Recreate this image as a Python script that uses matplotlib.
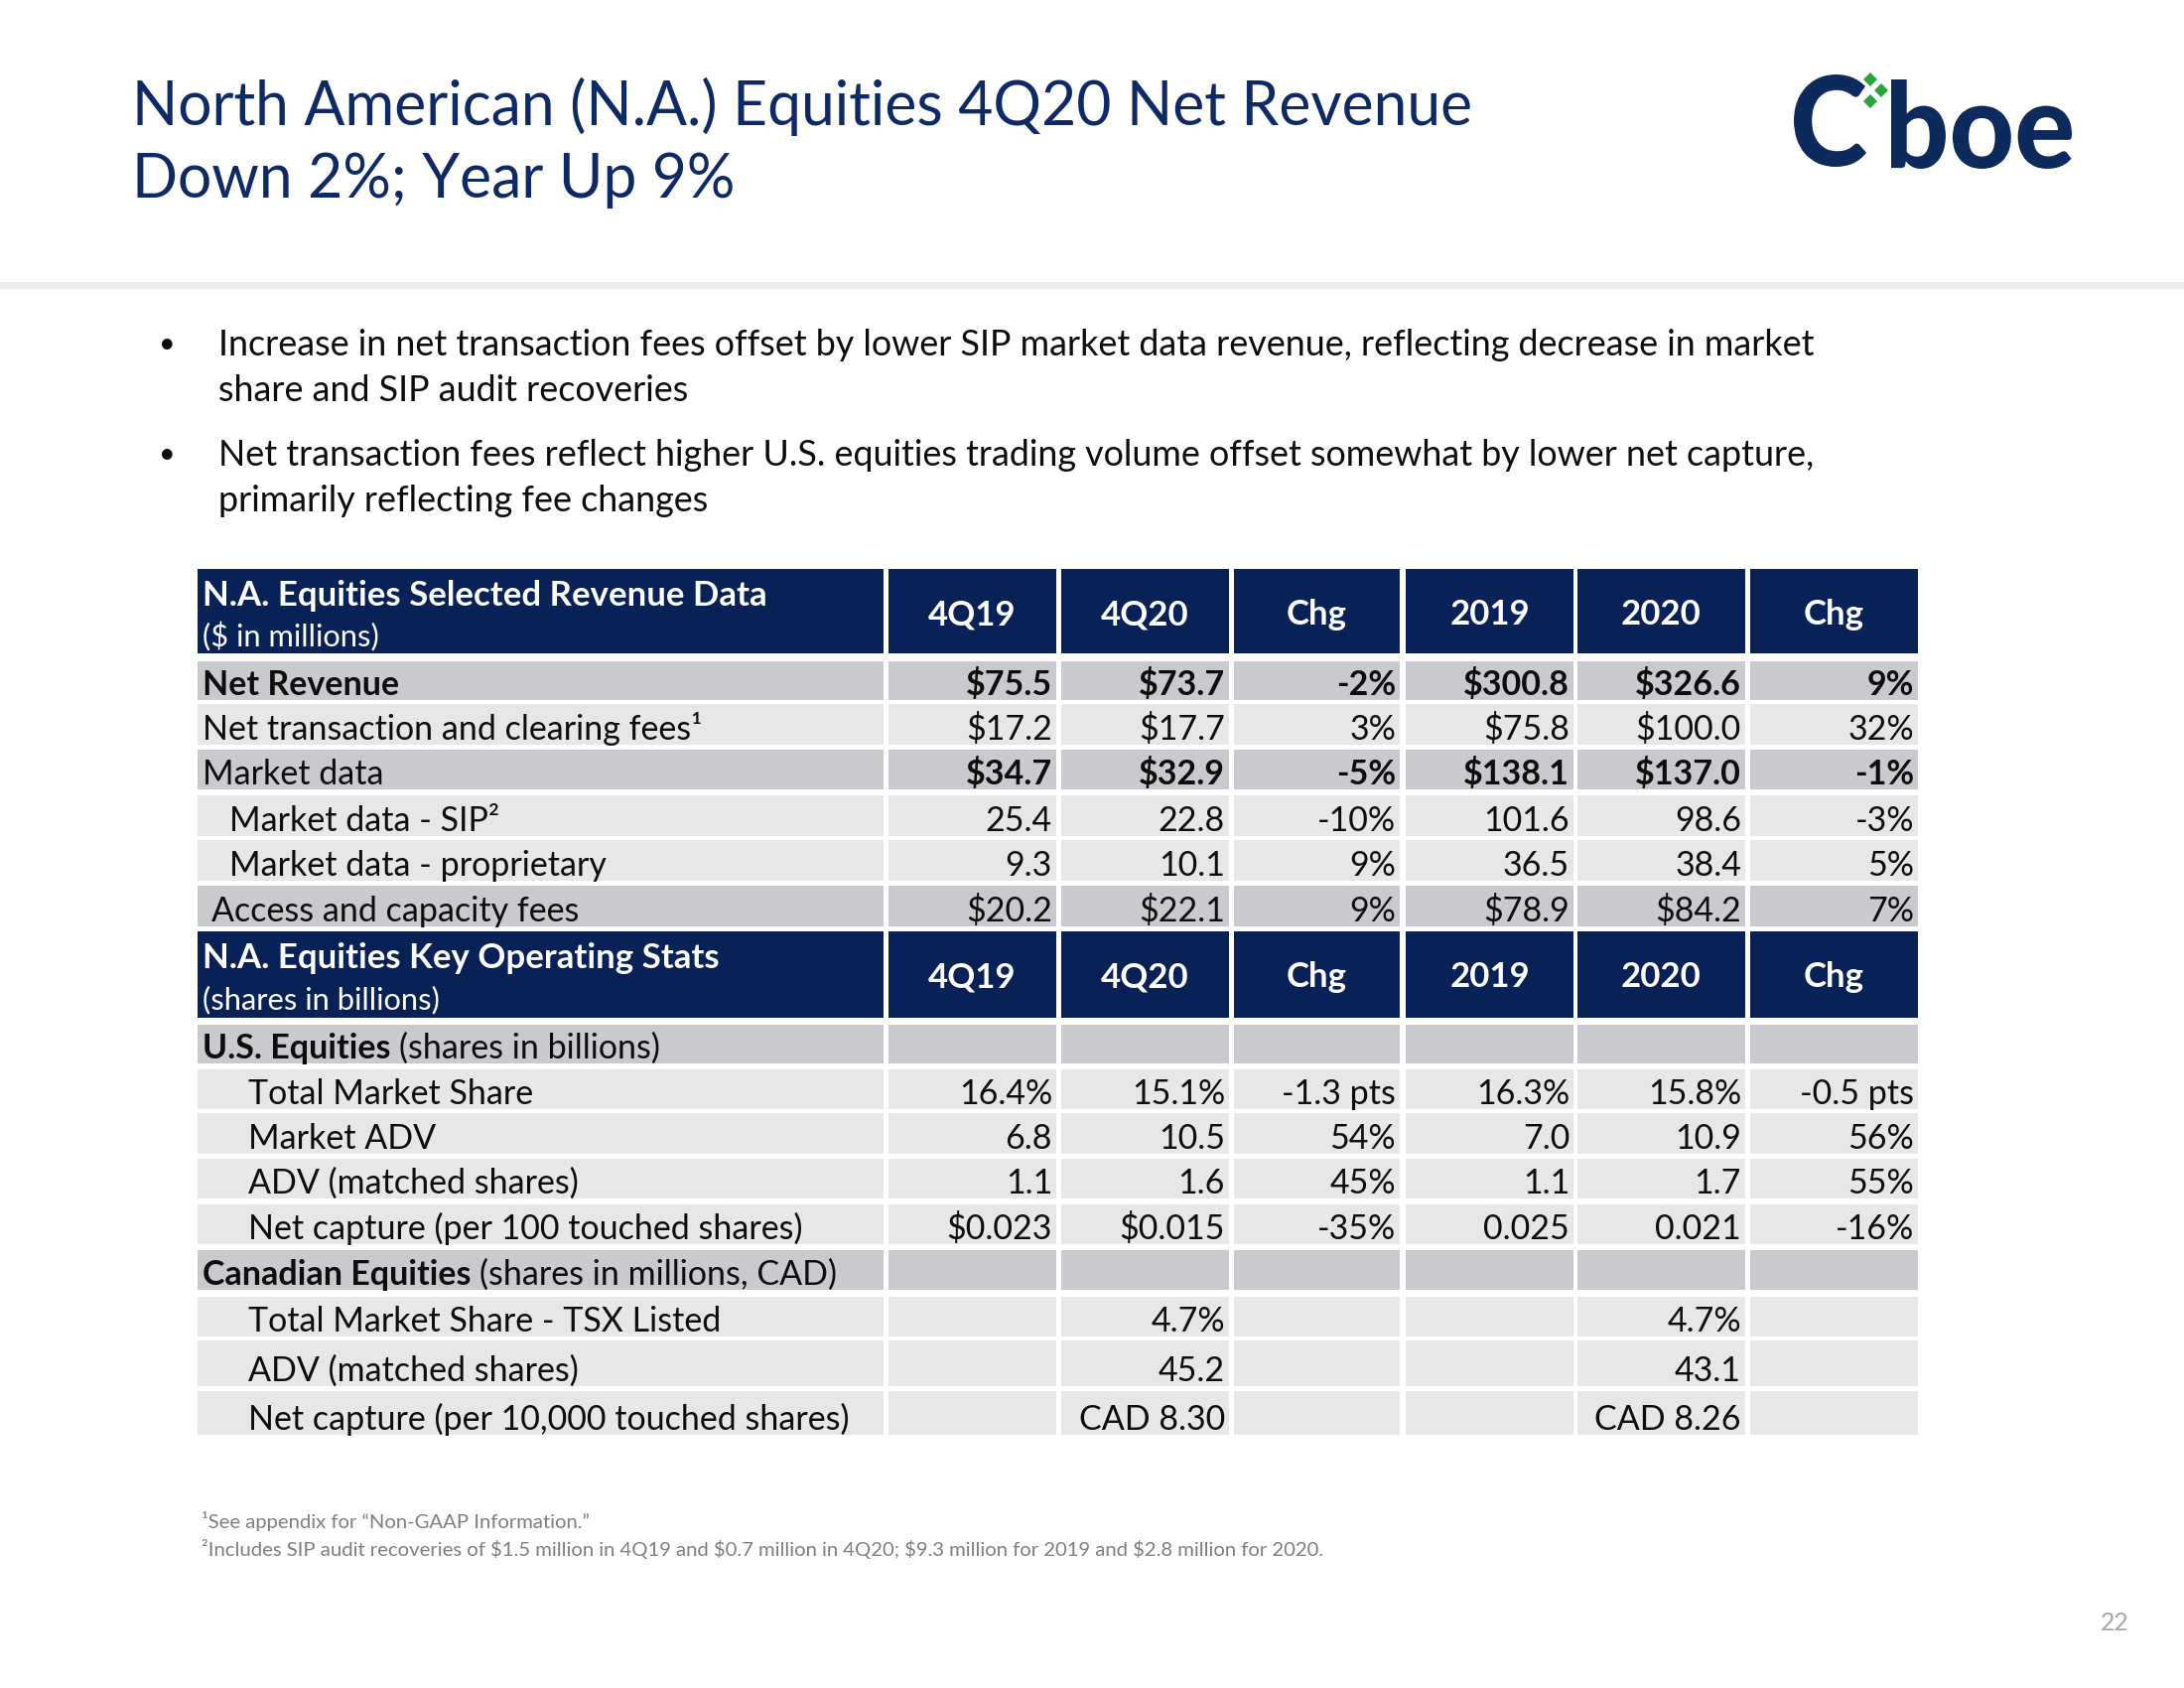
import matplotlib
matplotlib.use("Agg")
import matplotlib.pyplot as plt
from matplotlib.font_manager import FontProperties
from matplotlib.textpath import TextPath
from matplotlib.patches import Rectangle, PathPatch, Polygon
from matplotlib.transforms import Affine2D

FONT = "Lato"

# ---------------- data ----------------
title_lines = ["North American (N.A.) Equities 4Q20 Net Revenue",
               "Down 2%; Year Up 9%"]
bullets = [
    ["Increase in net transaction fees offset by lower SIP market data revenue, reflecting decrease in market",
     "share and SIP audit recoveries"],
    ["Net transaction fees reflect higher U.S. equities trading volume offset somewhat by lower net capture,",
     "primarily reflecting fee changes"],
]
col_headers = ["4Q19", "4Q20", "Chg", "2019", "2020", "Chg"]

rev_title = "N.A. Equities Selected Revenue Data"
rev_sub = "($ in millions)"
rev_labels = ["Net Revenue", "Net transaction and clearing fees\u00b9", "Market data",
              "Market data - SIP\u00b2", "Market data - proprietary", "Access and capacity fees"]
rev_4q19 = ["$75.5", "$17.2", "$34.7", "25.4", "9.3", "$20.2"]
rev_4q20 = ["$73.7", "$17.7", "$32.9", "22.8", "10.1", "$22.1"]
rev_qchg = ["-2%", "3%", "-5%", "-10%", "9%", "9%"]
rev_2019 = ["$300.8", "$75.8", "$138.1", "101.6", "36.5", "$78.9"]
rev_2020 = ["$326.6", "$100.0", "$137.0", "98.6", "38.4", "$84.2"]
rev_ychg = ["9%", "32%", "-1%", "-3%", "5%", "7%"]

stats_title = "N.A. Equities Key Operating Stats"
stats_sub = "(shares in billions)"
stats_labels = ["U.S. Equities (shares in billions)", "Total Market Share", "Market ADV",
                "ADV (matched shares)", "Net capture (per 100 touched shares)",
                "Canadian Equities (shares in millions, CAD)", "Total Market Share - TSX Listed",
                "ADV (matched shares)", "Net capture (per 10,000 touched shares)"]
stats_4q19 = ["", "16.4%", "6.8", "1.1", "$0.023", "", "", "", ""]
stats_4q20 = ["", "15.1%", "10.5", "1.6", "$0.015", "", "4.7%", "45.2", "CAD 8.30"]
stats_qchg = ["", "-1.3 pts", "54%", "45%", "-35%", "", "", "", ""]
stats_2019 = ["", "16.3%", "7.0", "1.1", "0.025", "", "", "", ""]
stats_2020 = ["", "15.8%", "10.9", "1.7", "0.021", "", "4.7%", "43.1", "CAD 8.26"]
stats_ychg = ["", "-0.5 pts", "56%", "55%", "-16%", "", "", "", ""]

footnotes = ["\u00b9See appendix for \u201cNon-GAAP Information.\u201d",
             "\u00b2Includes SIP audit recoveries of $1.5 million in 4Q19 and $0.7 million in 4Q20; "
             "$9.3 million for 2019 and $2.8 million for 2020."]
page_number = "22"

# ---------------- style / layout ----------------
NAVY = "#082157"
TITLE_C = "#0e2a66"
DARK = "#c9cacd"
LIGHT = "#e7e7e9"
TXT = "#0d0d0d"

rev_style = ["dark", "light", "dark", "light", "light", "dark"]
rev_bold_label = [True, False, False, False, False, False]
rev_bold_vals = [True, False, True, False, False, False]
rev_indent = [0, 0, 0, 27, 27, 9]
stats_style = ["dark", "light", "light", "light", "light", "dark", "light", "light", "light"]
stats_section = [True, False, False, False, False, True, False, False, False]
stats_indent = [0, 46, 46, 46, 46, 0, 46, 46, 46]

label_col = (199, 890)
data_cols = [(895, 1064), (1069, 1238), (1243, 1410), (1416, 1585), (1589, 1758), (1763, 1932)]
hdr1_rows = (573, 658)
rev_rows = [(666, 705), (709, 750), (755, 795), (801, 842), (846, 887), (892, 933)]
hdr2_rows = (938, 1025)
stats_rows = [(1032, 1071), (1077, 1117), (1121, 1162), (1167, 1207), (1213, 1253),
              (1259, 1299), (1306, 1346), (1350, 1396), (1401, 1445)]

fig = plt.figure(figsize=(22, 17), dpi=100)
ax = fig.add_axes([0, 0, 1, 1])
ax.set_xlim(0, 2200)
ax.set_ylim(1700, 0)
ax.axis("off")
renderer = fig.canvas.get_renderer()


def tw(s, size, weight="normal"):
    fp = FontProperties(family=FONT, weight=weight, size=size)
    w, h, d = renderer.get_text_width_height_descent(s, fp, ismath=False)
    return w


def fit(s, target, weight="normal"):
    return 10.0 * target / tw(s, 10, weight)


def T(x, y, s, size, weight="normal", color=TXT, ha="left", va="baseline"):
    return ax.text(x, y, s, fontsize=size, fontweight=weight, color=color, ha=ha, va=va,
                   family=FONT, parse_math=False)


TITLE_FS = fit(title_lines[0], 1350)
BUL_FS = fit(bullets[0][0], 1608)
TAB_FS = fit("Net transaction and clearing fees", 492)
HDR_FS = fit(rev_title, 570, "bold")
SUB_FS = fit(rev_sub, 178)
FOOT_FS = fit(footnotes[1], 1133)

# title
T(133, 126, title_lines[0], TITLE_FS, color=TITLE_C)
T(133, 199, title_lines[1], TITLE_FS, color=TITLE_C)

# separator
ax.add_patch(Rectangle((0, 284), 2200, 7, facecolor="#eeeeee", edgecolor="none"))

# logo
def fit_path(s, x0, x1, y0, y1, color):
    tp = TextPath((0, 0), s, size=100, prop=FontProperties(family=FONT, weight="black"))
    ext = tp.get_extents()
    sx = (x1 - x0) / ext.width
    sy = (y1 - y0) / ext.height
    tr = Affine2D().translate(-ext.x0, -ext.y0).scale(sx, -sy).translate(x0, y1)
    ax.add_patch(PathPatch(tr.transform_path(tp), facecolor=color, edgecolor="none"))

LOGO_C = "#0d2a5c"
fit_path("C", 1807, 1880, 75, 168, LOGO_C)
fit_path("boe", 1905, 2087, 80, 170, LOGO_C)
for cx, cy in [(1884, 80), (1895, 91), (1884, 102)]:
    d = 7
    ax.add_patch(Polygon([(cx, cy - d), (cx + d, cy), (cx, cy + d), (cx - d, cy)],
                         closed=True, facecolor="#25a63b", edgecolor="none"))

# bullets
bul_baselines = [[358, 404], [469, 515]]
for lines, ys in zip(bullets, bul_baselines):
    T(168, ys[0] - 3, "\u2022", BUL_FS * 0.8, ha="center")
    for ln, y in zip(lines, ys):
        T(220, y, ln, BUL_FS)

# table helpers
def header(rows, title, sub):
    top, bot = rows
    ax.add_patch(Rectangle((label_col[0], top), label_col[1] - label_col[0], bot - top,
                           facecolor=NAVY, edgecolor="none"))
    T(label_col[0] + 5, top + 37, title, HDR_FS, "bold", "white")
    T(label_col[0] + 5, top + 78, sub, SUB_FS, color="white")
    for (x0, x1), h in zip(data_cols, col_headers):
        ax.add_patch(Rectangle((x0, top), x1 - x0, bot - top, facecolor=NAVY, edgecolor="none"))
        T((x0 + x1) / 2, top + 56, h, HDR_FS, "bold", "white", ha="center")


def body(rows, styles, labels, values, indents, bold_label, bold_vals, section):
    for i, (top, bot) in enumerate(rows):
        fc = DARK if styles[i] == "dark" else LIGHT
        cells = [label_col] + data_cols
        for x0, x1 in cells:
            ax.add_patch(Rectangle((x0, top), x1 - x0, bot - top, facecolor=fc, edgecolor="none"))
        yb = bot - 5
        xl = label_col[0] + 5 + indents[i]
        lab = labels[i]
        if section[i] and " (" in lab:
            bpart, rpart = lab.split(" (", 1)
            T(xl, yb, bpart, TAB_FS, "bold")
            T(xl + tw(bpart + " ", TAB_FS, "bold"), yb, "(" + rpart, TAB_FS)
        else:
            T(xl, yb, lab, TAB_FS, "bold" if bold_label[i] else "normal")
        for (x0, x1), col in zip(data_cols, values):
            T(x1 - 4, yb, col[i], TAB_FS, "bold" if bold_vals[i] else "normal", ha="right")


header(hdr1_rows, rev_title, rev_sub)
body(rev_rows, rev_style, rev_labels,
     [rev_4q19, rev_4q20, rev_qchg, rev_2019, rev_2020, rev_ychg],
     rev_indent, rev_bold_label, rev_bold_vals, [False] * 6)
header(hdr2_rows, stats_title, stats_sub)
body(stats_rows, stats_style, stats_labels,
     [stats_4q19, stats_4q20, stats_qchg, stats_2019, stats_2020, stats_ychg],
     stats_indent, stats_section, [False] * 9, stats_section)

# footnotes
T(203, 1539, footnotes[0], FOOT_FS, color="#7f7f7f")
T(203, 1567, footnotes[1], FOOT_FS, color="#7f7f7f")

# page number
T(2145, 1642, page_number, fit("22", 29), color="#a6a6a6", ha="right")

fig.savefig("out.png", dpi=100, facecolor="white")
